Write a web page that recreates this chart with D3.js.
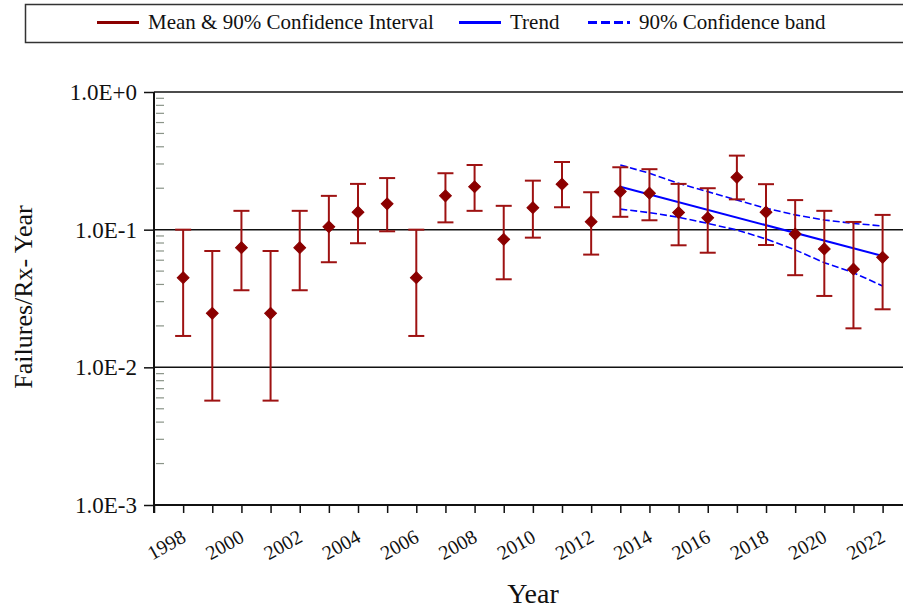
<!DOCTYPE html>
<html>
<head>
<meta charset="utf-8">
<script src="https://cdn.jsdelivr.net/npm/d3@7"></script>
<style>
  html, body { margin: 0; padding: 0; background: #fff; }
  svg { display: block; font-family: "Liberation Serif", "Times New Roman", serif; }
</style>
</head>
<body>
<svg id="chart" width="903" height="609"></svg>
<script>
const years = [1998, 1999, 2000, 2001, 2002, 2003, 2004, 2005, 2006, 2007, 2008, 2009, 2010,
               2011, 2012, 2013, 2014, 2015, 2016, 2017, 2018, 2019, 2020, 2021, 2022];
const means = [0.0448, 0.0247, 0.074, 0.0247, 0.074, 0.105, 0.134, 0.154, 0.0448, 0.176, 0.205, 0.0851, 0.1445,
               0.214, 0.1143, 0.189, 0.184, 0.133, 0.122, 0.240, 0.134, 0.093, 0.0724, 0.0516, 0.063];
const lower = [0.0169, 0.00573, 0.0363, 0.00573, 0.0363, 0.058, 0.0797, 0.0973, 0.0169, 0.113, 0.137, 0.0436, 0.0875,
               0.1455, 0.0659, 0.124, 0.117, 0.077, 0.068, 0.166, 0.0774, 0.0467, 0.033, 0.0192, 0.0264];
const upper = [0.1, 0.070, 0.137, 0.070, 0.137, 0.176, 0.215, 0.237, 0.1, 0.257, 0.295, 0.149, 0.227,
               0.310, 0.187, 0.284, 0.275, 0.215, 0.2, 0.345, 0.214, 0.164, 0.137, 0.1138, 0.128];

const trendYears = [2013, 2022];
const trendValues = [0.205, 0.0644];

const bandYears = [2013, 2014, 2015, 2016, 2017, 2018, 2019, 2020, 2021, 2022];
const bandUpper = [0.295, 0.257, 0.217, 0.189, 0.164, 0.143, 0.128, 0.1175, 0.111, 0.1064];
const bandLower = [0.141, 0.133, 0.123, 0.111, 0.0995, 0.0856, 0.0713, 0.0576, 0.0487, 0.039];

const yTickValues = [1, 0.1, 0.01, 0.001];
const yTickLabels = ["1.0E+0", "1.0E-1", "1.0E-2", "1.0E-3"];
const xLabelYears = [1998, 2000, 2002, 2004, 2006, 2008, 2010, 2012, 2014, 2016, 2018, 2020, 2022];

const legendLabels = ["Mean & 90% Confidence Interval", "Trend", "90% Confidence band"];
const xTitle = "Year";
const yTitle = "Failures/Rx- Year";

const RED = "#8b0000", BAR = "#9e1212", BLUE = "#0000ff";

const svg = d3.select("#chart");
const plot = { left: 154, right: 903, top: 92, bottom: 505 };

const x = d3.scaleLinear().domain([1997, 2022.7]).range([plot.left, plot.right]);
const y = d3.scaleLog().domain([0.001, 1]).range([plot.bottom, plot.top]);

// Legend box
const lg = svg.append("g");
lg.append("rect").attr("x", 25.5).attr("y", 4.5).attr("width", 900).attr("height", 38)
  .attr("fill", "#fff").attr("stroke", "#333").attr("stroke-width", 1.5);
const legendItems = [
  { x1: 97, x2: 139, color: RED, dash: null, tx: 148 },
  { x1: 459, x2: 501, color: BLUE, dash: null, tx: 510 },
  { x1: 588, x2: 630, color: BLUE, dash: "9,4", tx: 639 }
];
legendItems.forEach((d, i) => {
  lg.append("line").attr("x1", d.x1).attr("x2", d.x2).attr("y1", 22.5).attr("y2", 22.5)
    .attr("stroke", d.color).attr("stroke-width", 3).attr("stroke-dasharray", d.dash);
  lg.append("text").attr("x", d.tx).attr("y", 29).attr("font-size", 21).attr("fill", "#111")
    .text(legendLabels[i]);
});

// Gridlines at decades
const grid = svg.append("g");
grid.selectAll("line").data(yTickValues.slice(0, 3)).join("line")
  .attr("x1", plot.left).attr("x2", plot.right)
  .attr("y1", d => y(d)).attr("y2", d => y(d))
  .attr("stroke", "#111").attr("stroke-width", 1.5);

// Minor y ticks (inside)
const minor = [];
[0.001, 0.01, 0.1].forEach(dec => { for (let k = 2; k <= 9; k++) minor.push(dec * k); });
svg.append("g").selectAll("line").data(minor).join("line")
  .attr("x1", plot.left + 2).attr("x2", plot.left + 10)
  .attr("y1", d => y(d)).attr("y2", d => y(d))
  .attr("stroke", "#8a9488").attr("stroke-width", 1.2);

// Y axis
const yAxis = d3.axisLeft(y).tickValues(yTickValues)
  .tickFormat((d, i) => yTickLabels[i]).tickSize(10).tickPadding(7);
const yg = svg.append("g").attr("transform", `translate(${plot.left},0)`).call(yAxis);
yg.select(".domain").remove();
yg.selectAll(".tick line").attr("stroke", "#111").attr("stroke-width", 1.5);
yg.selectAll(".tick text").attr("font-size", 23).attr("fill", "#111")
  .attr("font-family", "Liberation Serif, Times New Roman, serif");
svg.append("line").attr("x1", plot.left).attr("x2", plot.left)
  .attr("y1", plot.top).attr("y2", plot.bottom + 8)
  .attr("stroke", "#111").attr("stroke-width", 2);

// X axis
const xAxis = d3.axisBottom(x).tickValues(d3.range(1997, 2023)).tickFormat("").tickSize(8);
const xg = svg.append("g").attr("transform", `translate(0,${plot.bottom})`).call(xAxis);
xg.select(".domain").remove();
xg.selectAll(".tick line").attr("stroke", "#111").attr("stroke-width", 1.5);
svg.append("line").attr("x1", plot.left).attr("x2", plot.right)
  .attr("y1", plot.bottom).attr("y2", plot.bottom)
  .attr("stroke", "#111").attr("stroke-width", 2);
svg.append("g").selectAll("text").data(xLabelYears).join("text")
  .attr("transform", d => `translate(${x(d) + 4},541) rotate(-29)`)
  .attr("text-anchor", "end").attr("font-size", 20).attr("fill", "#111")
  .text(d => d);

// Axis titles
svg.append("text").attr("x", 533).attr("y", 603).attr("text-anchor", "middle")
  .attr("font-size", 28).attr("fill", "#111").text(xTitle);
svg.append("text").attr("transform", "translate(32,297) rotate(-90)")
  .attr("text-anchor", "middle").attr("font-size", 26).attr("fill", "#111").text(yTitle);

// Confidence band and trend
const bandLine = d3.line().x(d => x(d[0])).y(d => y(d[1]));
const bl = svg.append("g");
bl.append("path").datum(bandYears.map((yr, i) => [yr, bandUpper[i]]))
  .attr("d", bandLine).attr("fill", "none").attr("stroke", BLUE)
  .attr("stroke-width", 1.6).attr("stroke-dasharray", "7,3");
bl.append("path").datum(bandYears.map((yr, i) => [yr, bandLower[i]]))
  .attr("d", bandLine).attr("fill", "none").attr("stroke", BLUE)
  .attr("stroke-width", 1.6).attr("stroke-dasharray", "7,3");
bl.append("path").datum(trendYears.map((yr, i) => [yr, trendValues[i]]))
  .attr("d", bandLine).attr("fill", "none").attr("stroke", BLUE).attr("stroke-width", 2);

// Error bars
const eb = svg.append("g").attr("stroke", BAR).attr("stroke-width", 2);
years.forEach((yr, i) => {
  const cx = x(yr);
  eb.append("line").attr("x1", cx).attr("x2", cx).attr("y1", y(upper[i])).attr("y2", y(lower[i]));
  eb.append("line").attr("x1", cx - 8).attr("x2", cx + 8).attr("y1", y(upper[i])).attr("y2", y(upper[i]));
  eb.append("line").attr("x1", cx - 8).attr("x2", cx + 8).attr("y1", y(lower[i])).attr("y2", y(lower[i]));
});

// Diamond markers
svg.append("g").selectAll("path").data(years).join("path")
  .attr("d", d3.symbol().type(d3.symbolSquare).size(70))
  .attr("transform", (d, i) => `translate(${x(d)},${y(means[i])}) rotate(45)`)
  .attr("fill", RED).attr("stroke", RED).attr("stroke-width", 1);
</script>
</body>
</html>
